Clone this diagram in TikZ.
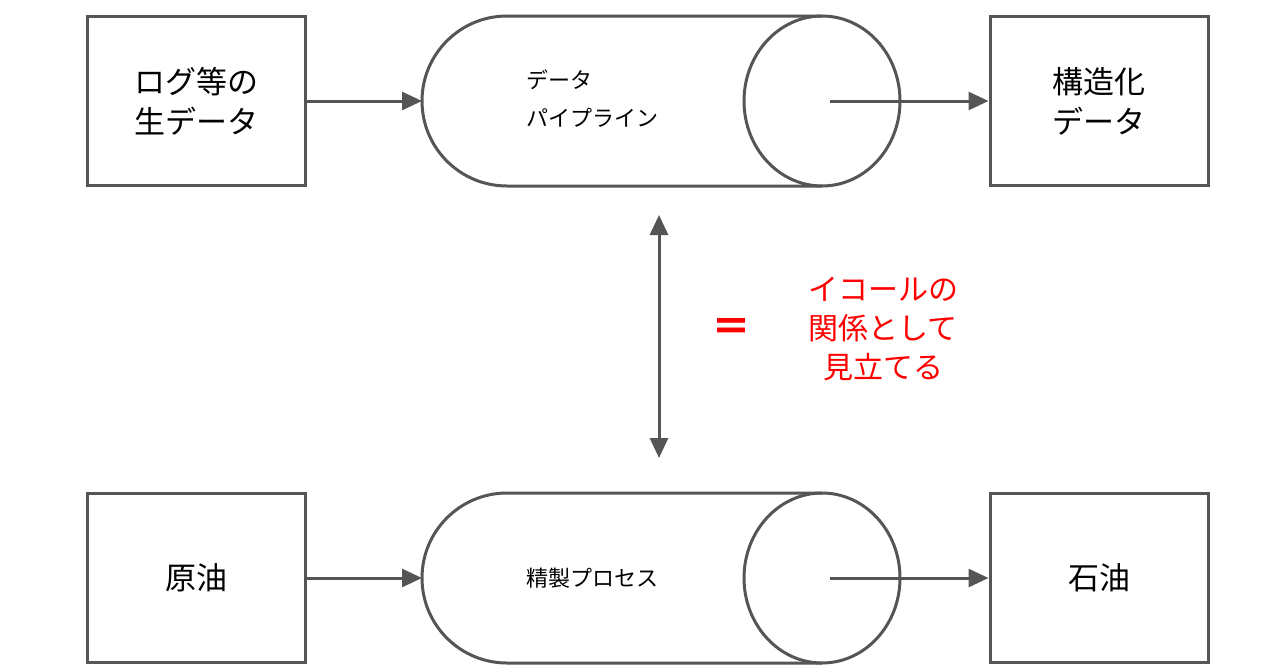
\documentclass[tikz,border=0pt]{standalone}
\usepackage{fontspec}
\setmainfont{Noto Sans CJK JP}
\usetikzlibrary{arrows.meta}
\definecolor{ln}{HTML}{555555}
\begin{document}
\begin{tikzpicture}[x=1pt,y=-1pt,
  box/.style={draw=ln,line width=3pt,minimum width=218pt,minimum height=169pt,align=center,font=\fontsize{31}{40}\selectfont},
  arr/.style={draw=ln,line width=3pt,-{Triangle[length=20pt,width=18pt]}},
  pipe/.style={draw=ln,line width=3pt}]
\useasboundingbox (0,0) rectangle (1280,670);
\node[box] (a1) at (196,101) {ログ等の\\生データ};
\node[box] (a3) at (1099,101) {構造化\\データ};
\node[box] (b1) at (196,578) {原油};
\node[box] (b3) at (1099,578) {石油};
\foreach \y/\n in {101/p1,578/p2}{
  \draw[pipe] (822,\y-85) -- (507,\y-85) arc[start angle=270,end angle=90,radius=85] -- (822,\y+85);
  \draw[pipe] (822,\y) ellipse[x radius=78,y radius=85];
  \coordinate (\n c) at (830,\y);
  \coordinate (\n l) at (422,\y);
}
\node[anchor=west,align=left,font=\fontsize{22}{38}\selectfont] (t1) at (523,99) {データ\\パイプライン};
\node[anchor=west,font=\fontsize{22}{28}\selectfont] (t2) at (523,578) {精製プロセス};
\draw[arr] (a1.east) -- (p1l);
\draw[arr] (p1c) -- (a3.west);
\draw[arr] (b1.east) -- (p2l);
\draw[arr] (p2c) -- (b3.west);
\coordinate (u) at (659,215); \coordinate (d) at (659,458);
\draw[draw=ln,line width=3pt,{Triangle[length=20pt,width=18pt]}-{Triangle[length=20pt,width=18pt]}] (u) -- (d);
\node[text=red,font=\fontsize{40}{40}\selectfont\bfseries] (eq) at (731,330) {＝};
\node[text=red,align=center,font=\fontsize{30}{39}\selectfont] (rt) at (883,329) {イコールの\\関係として\\見立てる};
\end{tikzpicture}
\end{document}
